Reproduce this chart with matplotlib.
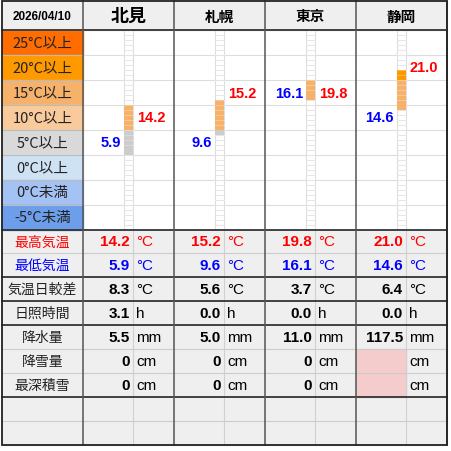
import matplotlib
matplotlib.use("Agg")
import matplotlib.pyplot as plt
from matplotlib.patches import Rectangle
import math

plt.rcParams['font.family'] = ['Noto Sans CJK JP', 'DejaVu Sans']
NUM = ['Liberation Sans', 'DejaVu Sans']

date_label = "2026/04/10"
cities = ["北見", "札幌", "東京", "静岡"]
t_max = [14.2, 15.2, 19.8, 21.0]
t_min = [5.9, 9.6, 16.1, 14.6]
t_range = [8.3, 5.6, 3.7, 6.4]
sunshine = [3.1, 0.0, 0.0, 0.0]
precip = [5.5, 5.0, 11.0, 117.5]
snowfall = [0, 0, 0, None]
snowdepth = [0, 0, 0, None]
band_labels = ["25°C以上", "20°C以上", "15°C以上", "10°C以上", "5°C以上", "0°C以上", "0°C未満", "-5°C未満"]
band_lows = [25, 20, 15, 10, 5, 0, -5, -10]
band_colors = ["#FF6D01", "#FF9900", "#F6B26B", "#F9CB9C", "#D9D9D9", "#CFE2F3", "#A4C2F4", "#6D9EEB"]

W, H = 451, 452
fig = plt.figure(figsize=(W/100, H/100), dpi=100)
ax = fig.add_axes([0, 0, 1, 1])
ax.set_xlim(0, W); ax.set_ylim(H, 0); ax.axis('off')

L, R = 2, 447
cx = [83, 174, 265, 356, 447]
hdr_b = 31
band_h = 25
temp_b = hdr_b + 8*band_h  # 231
rows = [231, 254, 278, 302, 326, 350, 374, 398, 422, 446]
grid = "#CCCCCC"
dark = "#333333"

def ty(t):
    return 131 - (t - 10) * 5

def band_center(t):
    for i, lo in enumerate(band_lows):
        if t >= lo:
            return hdr_b + i*band_h + band_h/2
    return hdr_b + 7.5*band_h

ax.add_patch(Rectangle((L, 2), R-L, hdr_b-2, color="#EFEFEF", zorder=0))
ax.add_patch(Rectangle((L, temp_b), R-L, rows[-1]-temp_b, color="#EFEFEF", zorder=0))
for i, (lab, c) in enumerate(zip(band_labels, band_colors)):
    y0 = hdr_b + i*band_h
    ax.add_patch(Rectangle((L, y0), cx[0]-L, band_h, color=c, zorder=0))
    ax.text((L+cx[0])/2, y0+band_h/2, lab, ha='center', va='center', fontsize=10.5, color="#222222")
    ax.plot([cx[0], R], [y0, y0], color="#DDDDDD", lw=0.8, zorder=1)
    ax.plot([L, cx[0]], [y0, y0], color="#BBBBBB", lw=0.8, zorder=1)

for j, v in enumerate(snowfall):
    if v is None:
        ax.add_patch(Rectangle((cx[j], rows[5]), 50, rows[7]-rows[5], color="#F4CCCC", zorder=0.5))

ax.text((L+cx[0])/2, hdr_b/2+1, date_label, ha='center', va='center', fontsize=8.5, fontweight='bold', family=NUM)
for j, c in enumerate(cities):
    ax.text((cx[j]+cx[j+1])/2, hdr_b/2+1, c, ha='center', va='center',
            fontsize=13 if j == 0 else 10.5, fontweight='bold')

for j in range(4):
    sx = cx[j] + 41
    sw = 9
    ax.plot([sx, sx], [hdr_b, temp_b], color="#DDDDDD", lw=0.8, zorder=1)
    ax.plot([sx+sw, sx+sw], [hdr_b, temp_b], color="#DDDDDD", lw=0.8, zorder=1)
    for k in range(-10, 30):
        y = ty(k)
        if hdr_b < y < temp_b:
            ax.plot([sx, sx+sw], [y, y], color="#E6E6E6", lw=0.7, zorder=1)
    ks = list(range(math.floor(t_min[j]), math.floor(t_max[j]) + 1))
    tops = [ty(k+1) for k in ks]
    cols = []
    for k in ks:
        if k >= 20: cols.append("#FF9900")
        elif k >= 10: cols.append("#F6B26B")
        elif k >= 5: cols.append("#CCCCCC")
        else: cols.append("#CFE2F3")
    ax.bar([sx+sw/2]*len(ks), [5]*len(ks), bottom=tops, width=sw, color=cols, linewidth=0, zorder=2)
    for t in tops[1:]:
        ax.plot([sx, sx+sw], [t, t], color="#FFFFFF", lw=0.4, alpha=0.5, zorder=3)
    ax.text(sx+sw+4, band_center(t_max[j]), f"{t_max[j]:.1f}", ha='left', va='center',
            color="red", fontsize=10.5, fontweight='bold', family=NUM)
    ax.text(sx-3, band_center(t_min[j]), f"{t_min[j]:.1f}", ha='right', va='center',
            color="blue", fontsize=10.5, fontweight='bold', family=NUM)

row_labels = ["最高気温", "最低気温", "気温日較差", "日照時間", "降水量", "降雪量", "最深積雪", "", ""]
label_colors = ["red", "blue"] + ["#222222"]*7
vals = [t_max, t_min, t_range, sunshine, precip, snowfall, snowdepth]
units = ["°C", "°C", "°C", "h", "mm", "cm", "cm"]
vcolors = ["red", "blue"] + ["black"]*5
fmts = ["{:.1f}"]*5 + ["{:d}"]*2
for i in range(9):
    y0, y1 = rows[i], rows[i+1]
    yc = (y0+y1)/2
    ax.text((L+cx[0])/2, yc, row_labels[i], ha='center', va='center', fontsize=10, color=label_colors[i])
    if i < 7:
        for j in range(4):
            v = vals[i][j]
            if v is not None:
                ax.text(cx[j]+47, yc, fmts[i].format(v), ha='right', va='center',
                        color=vcolors[i], fontsize=11, fontweight='bold', family=NUM)
            ax.text(cx[j]+53, yc, units[i], ha='left', va='center', color=vcolors[i], fontsize=11,
                    family=NUM)
    if i > 0:
        thick = i in (2, 3, 4, 7)
        ax.plot([L, R], [y0, y0], color=dark if thick else grid, lw=1.3 if thick else 0.8, zorder=4)
    for j in range(4):
        ax.plot([cx[j]+50, cx[j]+50], [y0, y1], color="#D0D0D0", lw=0.8, zorder=1)

ax.plot([L, R], [hdr_b, hdr_b], color=dark, lw=1.3, zorder=4)
ax.plot([L, R], [temp_b, temp_b], color=dark, lw=1.3, zorder=4)
for x in cx:
    ax.plot([x, x], [2, rows[-1]], color="#555555", lw=1.1, zorder=4)
ax.add_patch(Rectangle((L, 2), R-L, rows[-1]-2, fill=False, edgecolor="#222222", lw=1.3, zorder=5))

fig.savefig("out.png", dpi=100, facecolor="white")
